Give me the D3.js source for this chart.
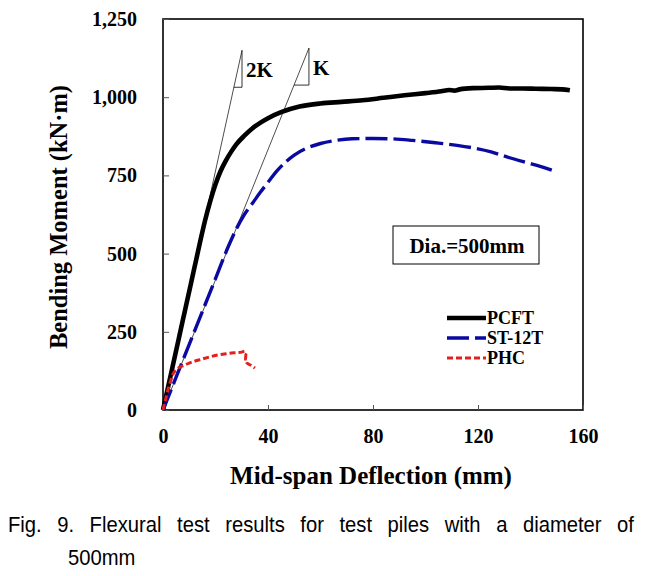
<!DOCTYPE html>
<html><head><meta charset="utf-8">
<script src="https://cdn.jsdelivr.net/npm/d3@7"></script>
<style>body{margin:0;background:#fff}svg{display:block}</style>
</head><body>
<svg id="c" width="654" height="576"></svg>
<script>
// ---- data ----
const xTicks = [0, 40, 80, 120, 160];
const yTicks = [0, 250, 500, 750, 1000, 1250];
const seriesNames = ["PCFT", "ST-12T", "PHC"];
const pcft = [[0,0],[2,76],[4,152],[6,228],[8,304],[10,380],[12,456],[14,532],[16,605],[18,668],[20,722],[22,765],[24,798],[26,826],[28,850],[31,877],[34,900],[37,918],[40,933],[45,952],[52,970],[60,980],[68,985],[76,990],[84,998],[92,1006],[100,1013],[106,1019],[109,1023],[111,1021],[113,1025],[118,1029],[124,1030],[128,1031],[132,1028],[137,1028],[142,1027],[148,1026],[152,1025],[155,1022]];
const st12t = [[0,0],[5,105],[10,210],[15,315],[20,420],[25,525],[28,580],[31,625],[34,660],[37,695],[40,728],[43.5,765],[47,795],[50,815],[55,838],[60,852],[66,862],[72,867],[80,868],[87,867],[95,862],[105,853],[112,846],[118,838],[125,825],[131,809],[138,792],[144,778],[149,764]];
const phc = [[0,0],[1,35],[2,68],[3,95],[4,118],[5,128],[6,135],[8,143],[10,150],[12,156],[15,163],[18,170],[21,176],[24,180],[27,183],[30,185],[31.2,188],[31.6,178],[31.4,162],[32,150],[33.5,143],[35,134]];
const line2K = [[0,0],[30.1,1150]];
const lineK = [[0,0],[55.6,1157]];
const labels2K = ["2K", "K"];
const boxLabel = "Dia.=500mm";
const xTitle = "Mid-span Deflection (mm)";
const yTitle = "Bending Moment (kN·m)";
const caption1 = "Fig. 9. Flexural test results for test piles with a diameter of";
const caption2 = "500mm";

// ---- layout ----
const L = 163, R = 583, T = 19, B = 410;
const svg = d3.select("#c");
const x = d3.scaleLinear().domain([0,160]).range([L,R]);
const y = d3.scaleLinear().domain([0,1250]).range([B,T]);
const serif = "'Liberation Serif','Times New Roman',serif";

// frame
svg.append("rect").attr("x",L).attr("y",T).attr("width",R-L).attr("height",B-T)
  .attr("fill","none").attr("stroke","#000").attr("stroke-width",1.6);

// axes
const xa = svg.append("g").attr("transform",`translate(0,${B})`)
  .call(d3.axisBottom(x).tickValues(xTicks).tickSizeInner(-5).tickSizeOuter(0).tickPadding(18));
const ya = svg.append("g").attr("transform",`translate(${L},0)`)
  .call(d3.axisLeft(y).tickValues(yTicks).tickSizeInner(-6).tickSizeOuter(0).tickPadding(26).tickFormat(d3.format(",")));
[xa,ya].forEach(g=>{
  g.select(".domain").remove();
  g.selectAll(".tick line").attr("stroke","#555").attr("stroke-width",1);
  g.selectAll(".tick text").attr("font-family",serif).attr("font-weight","bold").attr("font-size",20).attr("fill","#000");
});
xa.selectAll(".tick text").attr("dy","0.71em").attr("y",19);

// titles
svg.append("text").attr("x",371).attr("y",484).attr("text-anchor","middle")
  .attr("font-family",serif).attr("font-weight","bold").attr("font-size",25).text(xTitle);
svg.append("text").attr("transform","translate(67,217) rotate(-90)").attr("text-anchor","middle")
  .attr("font-family",serif).attr("font-weight","bold").attr("font-size",24.5).text(yTitle);

// stiffness reference lines
const ln = d3.line().x(d=>x(d[0])).y(d=>y(d[1]));
[line2K, lineK].forEach((pts,i)=>{
  svg.append("path").attr("d",ln(pts)).attr("fill","none").attr("stroke","#000").attr("stroke-width",0.7);
  const top = pts[1];
  const tx = x(top[0]), ty = y(top[1]);
  const by = ty + 37;
  const bx = x(top[0]*(y.invert(by))/top[1]);
  svg.append("path").attr("d",`M${tx},${ty}L${tx},${by}L${bx},${by}`).attr("fill","none").attr("stroke","#000").attr("stroke-width",0.8);
  svg.append("text").attr("x",tx+4).attr("y",ty+27).attr("font-family",serif).attr("font-weight","bold")
    .attr("font-size",21).text(labels2K[i]);
});

// series
const styles = [
  {data:pcft, color:"#000", w:4.6, dash:null},
  {data:st12t, color:"#0a0aa0", w:3.4, dash:"22,6"},
  {data:phc, color:"#e3201c", w:3, dash:"6,3"}
];
styles.forEach(s=>{
  svg.append("path").attr("d",d3.line().curve(d3.curveMonotoneX).x(d=>x(d[0])).y(d=>y(d[1]))(s.data))
    .attr("fill","none").attr("stroke",s.color).attr("stroke-width",s.w)
    .attr("stroke-dasharray",s.dash).attr("stroke-linejoin","round");
});

// Dia box
svg.append("rect").attr("x",393).attr("y",226).attr("width",146).attr("height",38)
  .attr("fill","#fff").attr("stroke","#000").attr("stroke-width",1);
svg.append("text").attr("x",467).attr("y",253).attr("text-anchor","middle")
  .attr("font-family",serif).attr("font-weight","bold").attr("font-size",21).text(boxLabel);

// legend
styles.forEach((s,i)=>{
  const ly = 318 + i*20;
  svg.append("line").attr("x1",447).attr("x2",486).attr("y1",ly).attr("y2",ly)
    .attr("stroke",s.color).attr("stroke-width",s.w).attr("stroke-dasharray",s.dash);
  svg.append("text").attr("x",487).attr("y",ly+6).attr("font-family",serif).attr("font-weight","bold")
    .attr("font-size",18).text(seriesNames[i]);
});

// caption (narrow glyphs, justified via word spacing)
const sx = 0.92;
const cap = svg.append("g").attr("transform",`scale(${sx},1)`);
const c1 = cap.append("text").attr("x",8/sx).attr("y",532).attr("font-family","'Liberation Sans',Arial,sans-serif")
  .attr("font-size",22).text(caption1);
const nat = c1.node().getComputedTextLength();
const nSpaces = caption1.split(" ").length - 1;
c1.attr("word-spacing", Math.max(0,(626/sx - nat)/nSpaces));
cap.append("text").attr("x",68/sx).attr("y",565).attr("font-family","'Liberation Sans',Arial,sans-serif")
  .attr("font-size",22).text(caption2);
</script>
</body></html>
